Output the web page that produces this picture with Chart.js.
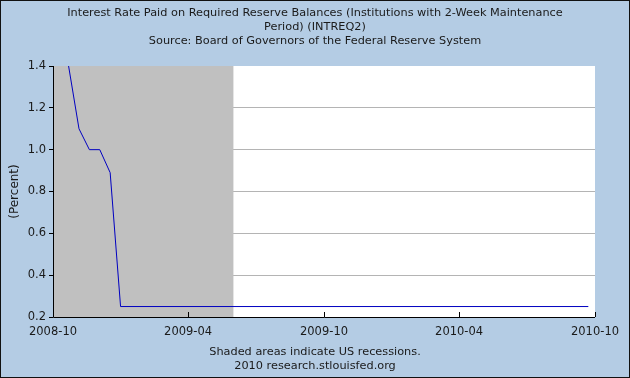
<!DOCTYPE html>
<html>
<head>
<meta charset="utf-8">
<script src="https://cdn.jsdelivr.net/npm/chart.js@4"></script>
<style>
  html, body { margin: 0; padding: 0; background: #b4cce4; }
  #wrap { width: 630px; height: 378px; }
</style>
</head>
<body>
<div id="wrap"><canvas id="intreqChart" width="630" height="378"></canvas></div>
<script>
const obsDates = ['2008-10-22', '2008-11-05', '2008-11-19', '2008-12-03', '2008-12-17', '2008-12-31', '2010-09-22'];
const rates = [1.40, 1.10, 1.00, 1.00, 0.89, 0.25, 0.25];

// x axis ticks
const tickDates = ['2008-10-01', '2009-04-01', '2009-10-01', '2010-04-01', '2010-10-01'];
const tickLabels = ['2008-10', '2009-04', '2009-10', '2010-04', '2010-10'];

// recession shading (starts before the left edge)
const recessionStart = '2007-12-01';
const recessionEnd = '2009-06-01';

const titleLines = [
  'Interest Rate Paid on Required Reserve Balances (Institutions with 2-Week Maintenance',
  'Period) (INTREQ2)',
  'Source: Board of Governors of the Federal Reserve System'
];
const footLines = ['Shaded areas indicate US recessions.', '2010 research.stlouisfed.org'];

const origin = Date.parse('2008-10-01');
function dayOf(s) {
  return (Date.parse(s) - origin) / 86400000;
}

const points = obsDates.map(function(d, i) {
  return { x: dayOf(d), y: rates[i] };
});
const tickDays = tickDates.map(dayOf);

const fontFamily = '"DejaVu Sans", Verdana, sans-serif';
const textColor = '#1a1a1a';

const frame = {
  id: 'frame',
  beforeDraw: function(chart) {
    const c = chart.ctx;
    const a = chart.chartArea;
    c.save();
    c.fillStyle = '#b4cce4';
    c.fillRect(0, 0, chart.width, chart.height);
    c.fillStyle = '#ffffff';
    c.fillRect(a.left, a.top, a.right - a.left, a.bottom - a.top);
    c.strokeStyle = '#111111';
    c.lineWidth = 1;
    c.strokeRect(0.5, 0.5, chart.width - 1, chart.height - 1);
    c.restore();
  },
  beforeDatasetsDraw: function(chart) {
    const c = chart.ctx;
    const a = chart.chartArea;
    const xs = chart.scales.x;
    let x0 = Math.max(a.left, xs.getPixelForValue(dayOf(recessionStart)));
    let x1 = Math.min(a.right, xs.getPixelForValue(dayOf(recessionEnd)));
    c.save();
    c.fillStyle = '#c0c0c0';
    c.fillRect(x0, a.top, x1 - x0, a.bottom - a.top);
    c.restore();
  },
  afterDatasetsDraw: function(chart) {
    const c = chart.ctx;
    const a = chart.chartArea;
    const xs = chart.scales.x;
    c.save();
    c.strokeStyle = '#000000';
    c.lineWidth = 1;
    c.beginPath();
    c.moveTo(a.left + 0.5, a.top);
    c.lineTo(a.left + 0.5, a.bottom + 0.5);
    c.lineTo(a.right, a.bottom + 0.5);
    tickDays.forEach(function(d) {
      let px = Math.round(xs.getPixelForValue(d)) + 0.5;
      c.moveTo(px, a.bottom);
      c.lineTo(px, a.bottom - 5);
    });
    c.stroke();
    c.restore();
  }
};

const ctx = document.getElementById('intreqChart').getContext('2d');
const intreqChart = new Chart(ctx, {
  type: 'line',
  data: {
    datasets: [{
      data: points,
      borderColor: '#0000c0',
      borderWidth: 1,
      pointRadius: 0,
      tension: 0,
      fill: false
    }]
  },
  options: {
    responsive: false,
    animation: false,
    layout: { padding: 0 },
    plugins: {
      legend: { display: false },
      tooltip: { enabled: false },
      title: {
        display: true,
        text: titleLines,
        color: textColor,
        font: { family: fontFamily, size: 11.3, weight: 'normal', lineHeight: '14px' },
        padding: { top: 6, bottom: 18 }
      },
      subtitle: {
        display: true,
        position: 'bottom',
        text: footLines,
        color: textColor,
        font: { family: fontFamily, size: 11.3, weight: 'normal', lineHeight: '14px' },
        padding: { top: 0, bottom: 5 }
      }
    },
    scales: {
      x: {
        type: 'linear',
        min: 0,
        max: dayOf('2010-10-01'),
        afterBuildTicks: function(scale) {
          scale.ticks = tickDays.map(function(v) { return { value: v }; });
        },
        afterFit: function(scale) { scale.height = 28; },
        grid: { display: false, drawTicks: false },
        border: { display: false },
        ticks: {
          autoSkip: false,
          maxRotation: 0,
          padding: 8,
          color: textColor,
          font: { family: fontFamily, size: 11.5 },
          callback: function(value, index) { return tickLabels[index]; }
        }
      },
      y: {
        min: 0.2,
        max: 1.4,
        afterFit: function(scale) { scale.width = 53; },
        title: {
          display: true,
          text: '(Percent)',
          color: textColor,
          font: { family: fontFamily, size: 12 },
          padding: { top: 8, bottom: 0 }
        },
        border: { display: false },
        grid: {
          color: function(c) {
            if (c.index === 0 || c.tick.value >= 1.4) return 'rgba(0,0,0,0)';
            return '#b4b4b4';
          },
          tickColor: '#000000',
          tickLength: 4
        },
        ticks: {
          stepSize: 0.2,
          padding: 3,
          color: textColor,
          font: { family: fontFamily, size: 11.5 },
          callback: function(value) { return value.toFixed(1); }
        }
      },
      // empty right margin, keeps the titles centred on the whole canvas
      yRight: {
        position: 'right',
        display: true,
        afterFit: function(scale) { scale.width = 35; },
        grid: { display: false, drawTicks: false },
        border: { display: false },
        ticks: { display: false }
      }
    }
  },
  plugins: [frame]
});
</script>
</body>
</html>
